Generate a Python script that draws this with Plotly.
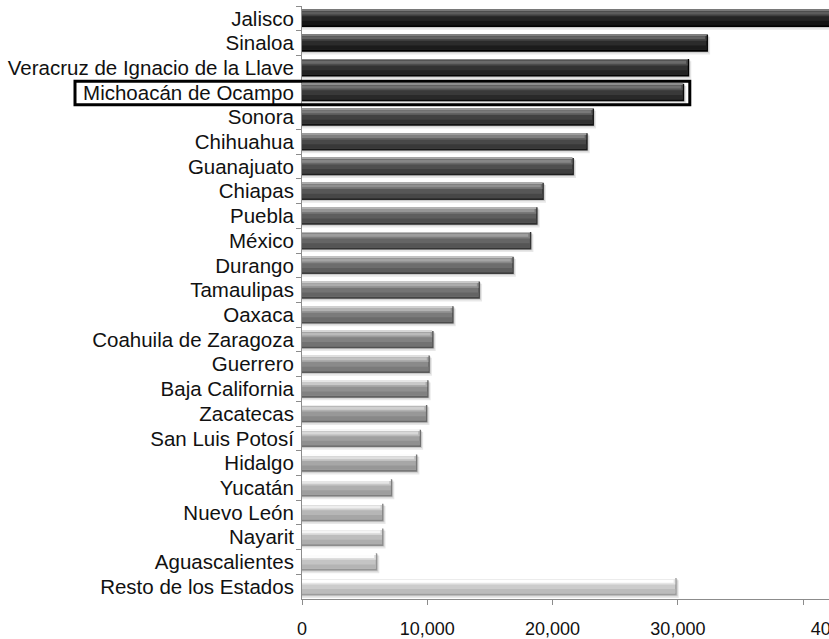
import plotly.graph_objects as go

# Values by state (pesos, millions)
states = [
    "Jalisco", "Sinaloa", "Veracruz de Ignacio de la Llave", "Michoacán de Ocampo",
    "Sonora", "Chihuahua", "Guanajuato", "Chiapas", "Puebla", "México", "Durango",
    "Tamaulipas", "Oaxaca", "Coahuila de Zaragoza", "Guerrero", "Baja California",
    "Zacatecas", "San Luis Potosí", "Hidalgo", "Yucatán", "Nuevo León", "Nayarit",
    "Aguascalientes", "Resto de los Estados",
]
values = [
    44500, 32400, 30900, 30500,
    23300, 22800, 21700, 19300, 18800, 18300, 16900,
    14200, 12100, 10500, 10200, 10100,
    10000, 9500, 9200, 7200, 6500, 6500,
    6000, 29900,
]
x_tick_values = [0, 10000, 20000, 30000, 40000]
x_tick_labels = ["0", "10,000", "20,000", "30,000", "40,000"]
highlighted = "Michoacán de Ocampo"

FONT = "Liberation Sans, Arial, sans-serif"
W, H = 829, 639
M_L, M_R, M_T, M_B = 302, 0, 6, 40
X_MAX = 42060
plot_w = W - M_L - M_R

n = len(states)
# grey ramp from dark (top) to light (bottom)
base = [36 + i * (204 - 36) / (n - 1) for i in range(n)]


def grey(delta):
    out = []
    for b in base:
        v = int(max(0, min(255, b + delta)))
        out.append(f"rgb({v},{v},{v})")
    return out


trim = 110  # leaves a dark cap at the bar end

# (offset, width, colors, x shift)
layers = [
    (-0.26, 0.72, ["rgba(0,0,0,0.09)"] * n, 170),
    (-0.31, 0.70, ["rgba(0,0,0,0.13)"] * n, 80),
    (-0.35, 0.70, grey(-48), 0),
    (-0.33, 0.61, grey(0), -trim),
    (0.10, 0.17, grey(-16), -trim),
    (-0.31, 0.22, grey(26), -trim),
    (-0.28, 0.12, grey(56), -trim - 130),
    (-0.35, 0.035, grey(85), -trim),
]

fig = go.Figure()
for off, wid, cols, dx in layers:
    fig.add_trace(go.Bar(
        y=states,
        x=[v + dx for v in values],
        orientation="h",
        offset=off,
        width=wid,
        marker=dict(color=cols, line=dict(width=0)),
        hoverinfo="skip",
        showlegend=False,
    ))

# frame around the highlighted state
k = states.index(highlighted)
y_top = 1 - (k + 0.05) / n
y_bot = 1 - (k + 1.0) / n
fig.add_shape(
    type="rect", xref="paper", yref="paper",
    x0=(75 - M_L) / plot_w, x1=(values[k] + 450) / X_MAX,
    y0=y_bot, y1=y_top,
    line=dict(color="black", width=3),
)

# the last value label sits past the right edge and is cut by it
tick_text = list(x_tick_labels)
tick_text[-1] = "\u00a0" * 14 + tick_text[-1]

fig.update_layout(
    width=W, height=H,
    margin=dict(l=M_L, r=M_R, t=M_T, b=M_B, autoexpand=False),
    barmode="overlay",
    plot_bgcolor="white", paper_bgcolor="white",
    font=dict(family=FONT, color="#111111"),
)
fig.update_yaxes(
    categoryorder="array", categoryarray=states, autorange="reversed",
    tickmode="linear", tick0=0, dtick=1, automargin=False,
    tickson="boundaries", ticks="outside", ticklen=5, tickcolor="#8c8c8c",
    showline=True, linecolor="#8c8c8c", linewidth=1,
    showgrid=False, tickfont=dict(size=20.5, family=FONT, color="#111111"),
    ticklabelstandoff=3,
)
fig.update_xaxes(
    range=[0, X_MAX], tickmode="array", automargin=False,
    tickvals=x_tick_values, ticktext=tick_text,
    ticks="outside", ticklen=5, tickcolor="#8c8c8c",
    showline=True, linecolor="#8c8c8c", linewidth=1,
    showgrid=False, zeroline=False,
    tickfont=dict(size=18, family=FONT, color="#111111"),
    ticklabelstandoff=8, ticklabeloverflow="allow",
)

fig.write_html("out.html")
